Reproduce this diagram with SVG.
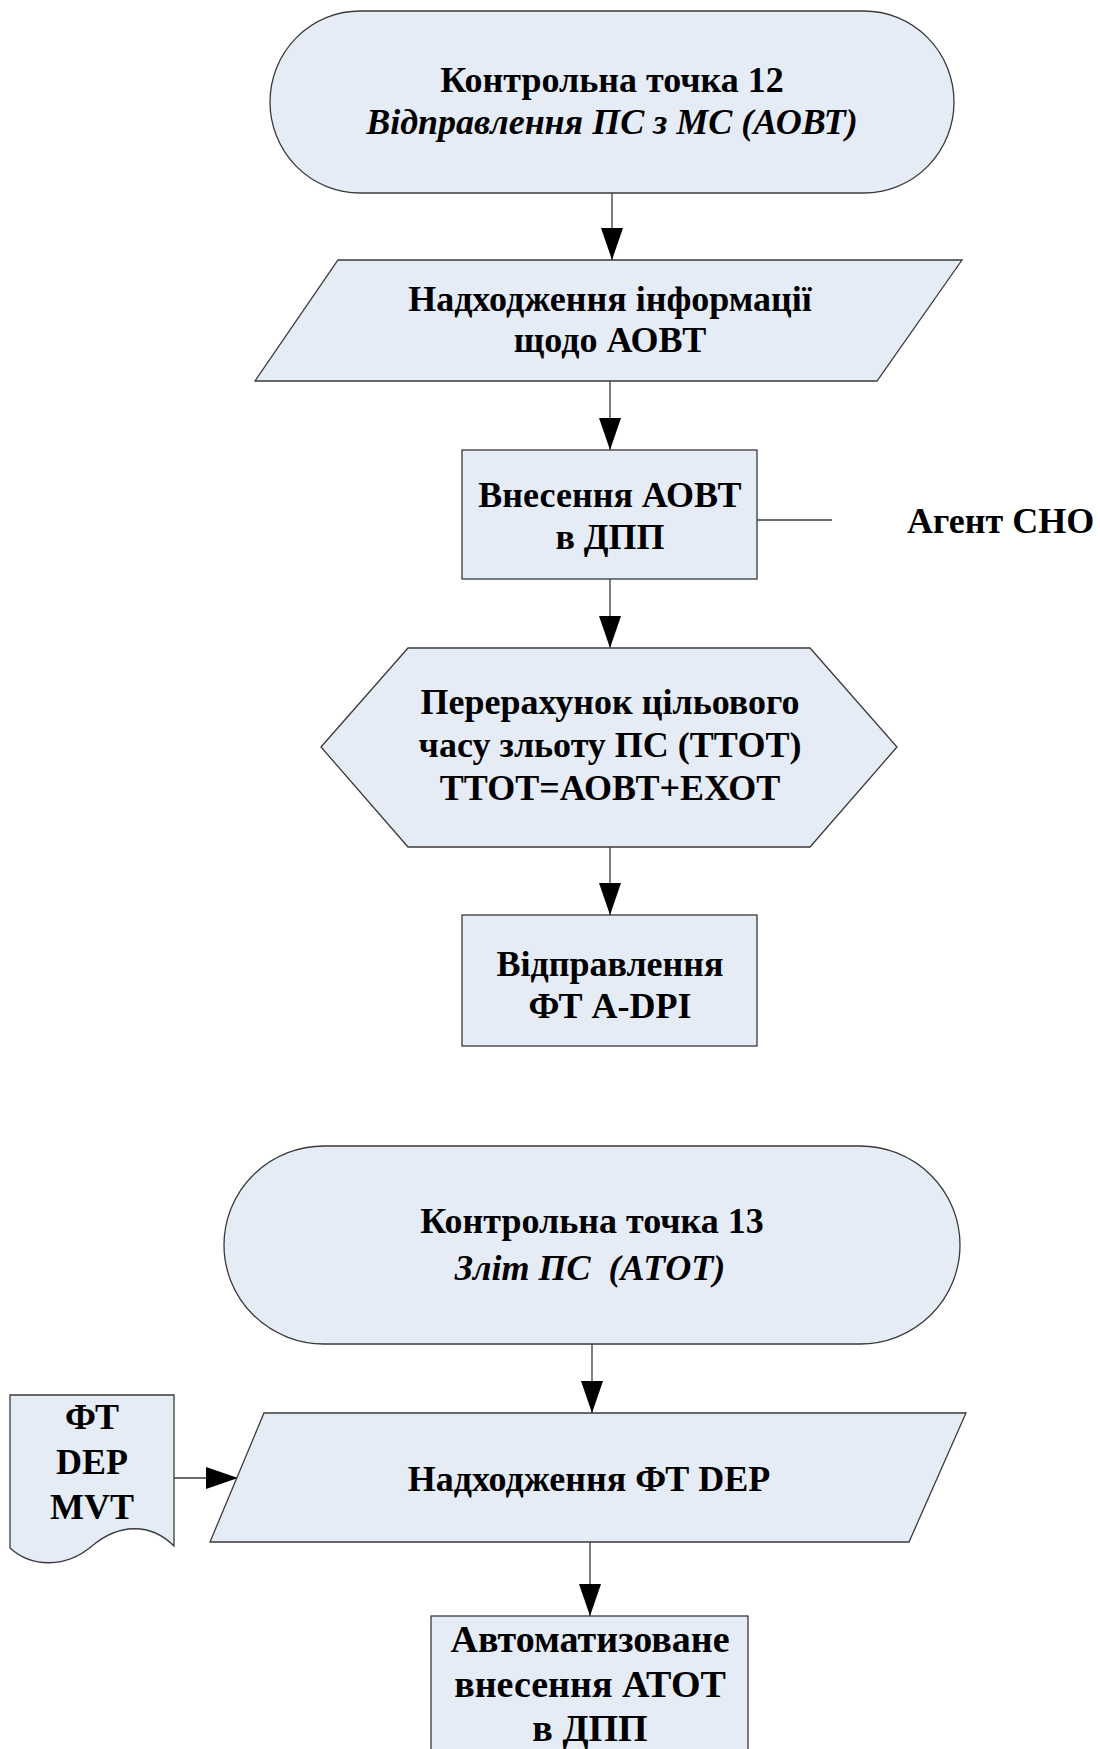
<svg xmlns="http://www.w3.org/2000/svg" width="1100" height="1749" viewBox="0 0 1100 1749">
<style>
.shape{fill:#E6ECF6;stroke:#3a3a3a;stroke-width:1.3}
.t{font-family:"Liberation Serif","Times New Roman",serif;font-weight:bold;font-size:36px;fill:#000;text-anchor:middle}
.i{font-style:italic}
.conn{stroke:#3a3a3a;stroke-width:1.3;fill:none}
</style>
<defs>
<marker id="ah" markerUnits="userSpaceOnUse" markerWidth="32" markerHeight="22" refX="32" refY="11" orient="auto" viewBox="0 0 32 22">
<path d="M0,0 L32,11 L0,22 Z" fill="#000"/>
</marker>
</defs>
<rect width="1100" height="1749" fill="#fff"/>
<g id="connectors">
<line class="conn" x1="612" y1="193" x2="612" y2="260" marker-end="url(#ah)"/>
<line class="conn" x1="610" y1="381" x2="610" y2="450" marker-end="url(#ah)"/>
<line class="conn" x1="610" y1="579" x2="610" y2="648" marker-end="url(#ah)"/>
<line class="conn" x1="610" y1="847" x2="610" y2="915" marker-end="url(#ah)"/>
<line class="conn" x1="592" y1="1344" x2="592" y2="1413" marker-end="url(#ah)"/>
<line class="conn" x1="590" y1="1542" x2="590" y2="1616" marker-end="url(#ah)"/>
<line class="conn" x1="174" y1="1478" x2="238" y2="1478" marker-end="url(#ah)"/>
<line class="conn" x1="757" y1="520" x2="832" y2="520"/>
</g>
<g id="cp12">
<rect class="shape" x="270" y="11" width="684" height="182" rx="90" ry="91"/>
<text class="t" x="612" y="92">Контрольна точка 12</text>
<text class="t i" x="612" y="134">Відправлення ПС з МС (АОВТ)</text>
</g>
<g id="info-aobt">
<polygon class="shape" points="338,260 962,260 877,381 255,381"/>
<text class="t" x="610" y="311">Надходження інформації</text>
<text class="t" x="610" y="352">щодо АОВТ</text>
</g>
<g id="enter-aobt">
<rect class="shape" x="462" y="450" width="295" height="129"/>
<text class="t" x="610" y="507">Внесення АОВТ</text>
<text class="t" x="610" y="549">в ДПП</text>
</g>
<g id="agent">
<text class="t" x="907" y="533" style="text-anchor:start">Агент СНО</text>
</g>
<g id="ttot">
<polygon class="shape" points="321,747 408,648 810,648 897,747 810,847 408,847"/>
<text class="t" x="610" y="714">Перерахунок цільового</text>
<text class="t" x="610" y="757">часу зльоту ПС (ТТОТ)</text>
<text class="t" x="610" y="800">ТТОТ=АОВТ+ЕХОТ</text>
</g>
<g id="send-adpi">
<rect class="shape" x="462" y="915" width="295" height="131"/>
<text class="t" x="610" y="976">Відправлення</text>
<text class="t" x="610" y="1018">ФТ A-DPI</text>
</g>
<g id="cp13">
<rect class="shape" x="224" y="1146" width="736" height="198" rx="100" ry="99"/>
<text class="t" x="592" y="1233">Контрольна точка 13</text>
<text class="t i" x="590" y="1280" style="white-space:pre">Зліт ПС  (АТОТ)</text>
</g>
<g id="doc-dep">
<path class="shape" d="M10,1395 H174 V1546 C150,1522 118,1524 92,1546 C66,1568 32,1568 10,1548 Z"/>
<text class="t" x="92" y="1429">ФТ</text>
<text class="t" x="92" y="1474">DEP</text>
<text class="t" x="92" y="1519">MVT</text>
</g>
<g id="recv-dep">
<polygon class="shape" points="264,1413 966,1413 909,1542 210,1542"/>
<text class="t" x="589" y="1491">Надходження ФТ DEP</text>
</g>
<g id="auto-atot">
<rect class="shape" x="431" y="1616" width="317" height="150"/>
<text class="t" x="590" y="1652" style="font-size:38px">Автоматизоване</text>
<text class="t" x="590" y="1697" style="font-size:38px">внесення АТОТ</text>
<text class="t" x="590" y="1741" style="font-size:38px">в ДПП</text>
</g>
</svg>
